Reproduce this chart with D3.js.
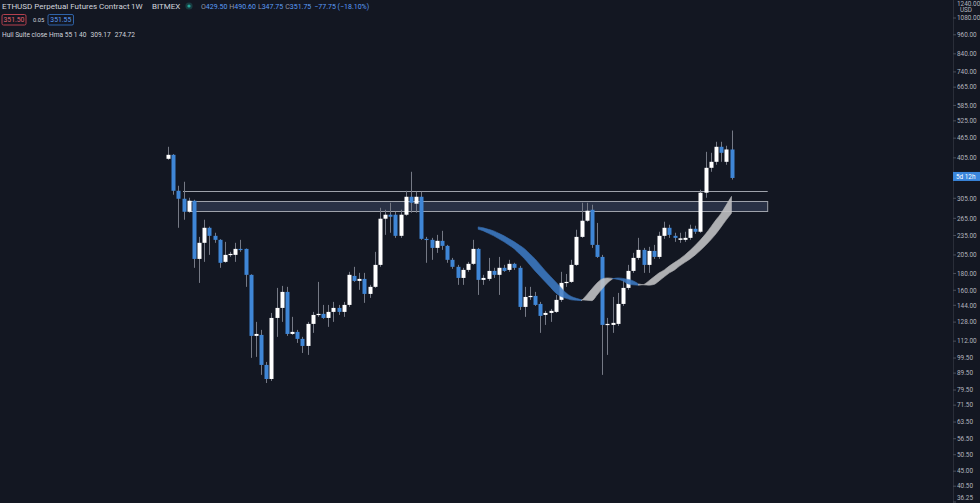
<!DOCTYPE html>
<html>
<head>
<meta charset="utf-8">
<script src="https://cdnjs.cloudflare.com/ajax/libs/d3/7.8.5/d3.min.js"></script>
<style>
html, body { margin: 0; padding: 0; background: #131722; overflow: hidden; }
svg { display: block; font-family: Roboto, "Liberation Sans", sans-serif; }
</style>
</head>
<body>
<div id="chart"></div>
<script>
/*
 * Weekly candles, ETHUSD BitMEX, oldest first.
 */
var opens = [402.3, 413.7, 321.5, 304.0, 277.5, 299.8, 199.4, 223.2, 248.0, 234.4,
    227.9, 195.3, 205.1, 205.1, 213.9, 213.9, 178.3, 116.2, 117.0, 94.8,
    85.9, 131.8, 141.4, 158.2, 117.8, 119.5, 113.8, 108.3, 126.4, 134.6,
    135.6, 131.8, 137.5, 141.4, 137.5, 144.4, 177.0, 170.9, 173.3, 156.0,
    163.9, 191.2, 264.3, 271.8, 271.8, 234.4, 271.8, 308.3, 293.6, 308.3,
    229.5, 227.9, 215.4, 226.3, 218.5, 198.1, 188.6, 174.5, 184.6, 192.6,
    213.9, 172.1, 173.3, 183.3, 178.3, 187.3, 184.6, 192.6, 187.3, 142.4,
    152.7, 153.8, 145.4, 134.6, 136.5, 137.5, 149.6, 168.5, 169.7, 191.2,
    232.7, 260.6, 281.4, 220.0, 202.2, 125.5, 125.5, 126.4, 145.4, 162.7,
    183.3, 200.8, 212.4, 191.2, 210.9, 202.2, 234.4, 248.0, 234.4, 227.9,
    227.9, 231.1, 246.3, 241.2, 317.1, 377.7, 393.9, 437.7, 393.9, 429.5];
var highs = [437.7, 416.0, 333.0, 342.5, 306.2, 301.9, 232.7, 262.4, 250.0, 239.5,
    229.0, 224.7, 209.5, 223.2, 227.9, 214.5, 179.0, 128.2, 121.2, 96.8,
    136.5, 162.7, 165.0, 163.9, 132.8, 121.2, 115.4, 128.2, 137.5, 169.7,
    144.4, 144.4, 147.5, 144.4, 147.5, 182.1, 188.6, 180.8, 180.8, 166.2,
    209.5, 285.4, 281.4, 295.6, 277.5, 281.4, 321.5, 367.3, 319.3, 319.3,
    232.7, 231.1, 236.0, 242.8, 220.0, 200.8, 191.2, 187.3, 195.3, 227.9,
    215.4, 178.3, 200.8, 187.3, 202.2, 191.2, 198.1, 194.0, 189.9, 163.9,
    163.9, 158.2, 147.5, 138.5, 140.4, 154.9, 182.1, 179.4, 198.1, 244.6,
    295.6, 295.6, 291.5, 256.6, 205.1, 131.8, 152.7, 157.1, 172.1, 191.2,
    208.0, 231.1, 215.4, 217.0, 220.0, 241.2, 258.8, 253.4, 239.5, 239.5,
    241.2, 253.4, 251.6, 323.8, 422.5, 419.6, 453.3, 453.3, 440.8, 490.6];
var lows = [399.5, 312.7, 248.0, 262.4, 275.6, 187.3, 168.5, 195.3, 205.1, 223.2,
    187.3, 194.0, 202.2, 195.3, 209.5, 163.9, 99.6, 100.3, 88.4, 83.5,
    84.7, 115.4, 128.2, 116.2, 117.0, 110.6, 103.1, 101.7, 118.7, 132.8,
    130.9, 123.8, 128.2, 134.6, 132.8, 142.4, 169.7, 160.5, 146.5, 151.7,
    162.7, 188.6, 236.0, 239.5, 231.1, 231.1, 269.9, 275.6, 275.6, 227.9,
    194.0, 198.1, 208.0, 212.4, 194.0, 186.0, 166.2, 166.2, 182.1, 191.2,
    154.9, 166.2, 170.9, 174.5, 154.9, 182.1, 182.1, 184.6, 139.4, 132.8,
    149.6, 143.4, 118.7, 125.5, 128.2, 136.5, 147.5, 163.9, 168.5, 189.9,
    231.1, 258.8, 215.4, 200.8, 88.4, 101.7, 118.7, 124.6, 143.4, 160.5,
    180.8, 198.1, 180.8, 180.8, 199.4, 199.4, 229.5, 231.1, 224.7, 223.2,
    224.7, 227.9, 237.6, 239.5, 306.2, 367.3, 385.8, 393.9, 385.8, 347.75];
var closes = [413.7, 321.5, 304.0, 277.5, 299.8, 199.4, 223.2, 248.0, 234.4, 227.9,
    194.0, 205.1, 206.5, 213.9, 212.4, 178.3, 116.2, 117.8, 94.8, 85.9,
    131.8, 141.4, 158.2, 117.8, 119.5, 113.8, 108.3, 126.4, 134.6, 135.6,
    131.8, 137.5, 141.4, 137.5, 144.4, 178.3, 170.9, 173.3, 156.0, 163.9,
    191.2, 264.3, 271.8, 268.0, 234.4, 271.8, 308.3, 295.6, 308.3, 229.5,
    227.9, 215.4, 226.3, 218.5, 198.1, 188.6, 174.5, 184.6, 192.6, 213.9,
    172.1, 174.5, 183.3, 178.3, 187.3, 183.3, 192.6, 187.3, 142.4, 152.7,
    153.8, 144.4, 133.7, 136.5, 138.5, 149.6, 168.5, 169.7, 191.2, 232.7,
    260.6, 279.5, 220.0, 202.2, 125.5, 126.4, 127.3, 145.4, 162.7, 183.3,
    200.8, 212.4, 191.2, 210.9, 202.2, 234.4, 248.0, 236.0, 231.1, 230.3,
    231.1, 246.3, 241.2, 317.1, 377.7, 393.9, 437.7, 419.6, 429.5, 351.75];
/*
 * Hull Suite (HMA 55) values, first value belongs to bar hullStart.
 */
var hullStart = 58;
var hull = [249.6, 247.9, 245.3, 242.7, 238.5, 234.4, 229.5, 224.7, 219.3, 213.9,
    206.5, 199.4, 191.2, 183.3, 176.3, 169.7, 163.3, 157.1, 153.3, 151.2,
    149.6, 149.1, 148.8, 154.9, 161.6, 168.5, 173.3, 174.5, 173.9, 172.7,
    170.9, 167.3, 166.2, 165.8, 166.7, 170.9, 175.8, 180.8, 184.6, 189.9,
    194.6, 199.4, 205.1, 211.7, 219.3, 227.9, 237.7, 249.6, 262.2, 274.7,
    291.3, 309.2];
/*
 * Price scale labels.
 */
var priceTicks = [1240, 1080, 960, 840, 740, 665, 585, 525, 465, 405, 305, 265, 235,
    205, 180, 160, 144, 128, 112, 99.5, 89.5, 79.5, 71.5, 63.5, 56.5, 50.5, 45, 40.5, 36.25];
/*
 * Drawn resistance line and zone.
 */
var levelLine = 321.5;
var zone = [279.5, 299.8];
/*
 * Legend values.
 */
var legendOhlc = [['O', '429.50'], ['H', '490.60'], ['L', '347.75'], ['C', '351.75']];
var legendChange = '\u221277.75 (\u221218.10%)';
var hullLegend = ['309.17', '274.72'];


function CandleChart() {
    this._width = 980;
    this._height = 503;
    this._axisX = 953;
    this._colors = {
        bg: '#131722',
        up: '#ffffff',
        down: '#3f86d6',
        wick: '#757985',
        text: '#d1d4dc',
        axisText: '#b2b5be',
        blue: '#5b9cf6',
        drawing: '#9ea2ab'
    };
    this._x = d3.scaleLinear().domain([0, 109]).range([168, 731.5]);
    this._y = d3.scaleLog().domain([36.25, 1080]).range([502, 18]);
}


CandleChart.prototype.renderTo = function(selection) {

    this._svg = d3.select(selection).append('svg')
        .attr('width', this._width)
        .attr('height', this._height);

    this._svg.append('rect')
        .attr('width', this._width)
        .attr('height', this._height)
        .attr('fill', this._colors.bg);

    this._drawLevels();
    this._drawCandles();
    this._drawHull();
    this._drawAxis();
    this._drawLegend();

    return this;
};


CandleChart.prototype._drawLevels = function() {

    var x = this._x, y = this._y, c = this._colors;
    var right = x(116);
    /*
     * Horizontal line.
     */
    this._svg.append('line')
        .attr('x1', x(2.9)).attr('x2', right)
        .attr('y1', Math.round(y(levelLine)) + 0.5)
        .attr('y2', Math.round(y(levelLine)) + 0.5)
        .attr('stroke', c.drawing)
        .attr('stroke-width', 1);
    /*
     * Zone rectangle.
     */
    var top = Math.round(y(zone[1])) + 0.5;
    var bottom = Math.round(y(zone[0])) + 0.5;
    this._svg.append('rect')
        .attr('x', x(4.3)).attr('y', top)
        .attr('width', right - x(4.3))
        .attr('height', bottom - top)
        .attr('fill', 'rgba(125,145,195,0.22)')
        .attr('stroke', c.drawing)
        .attr('stroke-width', 1);
};


CandleChart.prototype._drawCandles = function() {

    var x = this._x, y = this._y, c = this._colors;
    var bars = d3.range(opens.length).map(function(i) {
        return {i: i, o: opens[i], h: highs[i], l: lows[i], c: closes[i]};
    });
    var g = this._svg.append('g');

    g.selectAll('line.wick').data(bars).enter().append('line')
        .attr('class', 'wick')
        .attr('x1', d => Math.round(x(d.i)) + 0.5)
        .attr('x2', d => Math.round(x(d.i)) + 0.5)
        .attr('y1', d => y(d.h))
        .attr('y2', d => y(d.l))
        .attr('stroke', c.wick)
        .attr('stroke-width', 1);

    g.selectAll('rect.body').data(bars).enter().append('rect')
        .attr('class', 'body')
        .attr('x', d => Math.round(x(d.i)) - 1.5)
        .attr('width', 4)
        .attr('y', d => y(Math.max(d.o, d.c)))
        .attr('height', d => Math.max(1.2, Math.abs(y(d.o) - y(d.c))))
        .attr('fill', d => d.c >= d.o ? c.up : c.down);
};


CandleChart.prototype._drawHull = function() {

    var x = this._x, y = this._y;
    var last = hullStart + hull.length - 1;
    var value = i => hull[i - hullStart];
    /*
     * Split band into runs of rising / falling hull.
     */
    var runs = [];
    for (var i = hullStart + 2; i <= last; i++) {
        var rising = value(i) >= value(i - 2);
        var run = runs[runs.length - 1];
        if (!run || run.rising !== rising) {
            runs.push({rising: rising, from: Math.max(hullStart + 2, i - 1), to: i});
        } else {
            run.to = i;
        }
    }

    var area = d3.area()
        .curve(d3.curveMonotoneX)
        .x(i => x(i))
        .y0(i => y(value(i - 2)))
        .y1(i => y(value(i)));

    this._svg.append('g').selectAll('path').data(runs).enter().append('path')
        .attr('d', d => area(d3.range(d.from, d.to + 1)))
        .attr('fill', d => d.rising ? '#c4c4c6' : '#3d7ac4')
        .attr('stroke', d => d.rising ? '#c4c4c6' : '#3d7ac4')
        .attr('stroke-width', 0.6)
        .attr('opacity', 0.88);
};


CandleChart.prototype._drawAxis = function() {

    var y = this._y, c = this._colors, ax = this._axisX;
    var g = this._svg.append('g');
    /*
     * Keep edge labels inside the picture.
     */
    var labelY = d => Math.min(497.5, Math.max(3.5, y(d)));

    g.append('line')
        .attr('x1', ax + 0.5).attr('x2', ax + 0.5)
        .attr('y1', 0).attr('y2', this._height)
        .attr('stroke', '#2a2e39');

    var ticks = g.selectAll('g.tick').data(priceTicks).enter().append('g')
        .attr('class', 'tick');

    ticks.append('line')
        .attr('x1', ax).attr('x2', ax + 3)
        .attr('y1', d => y(d)).attr('y2', d => y(d))
        .attr('stroke', '#4a4e59');

    ticks.append('text')
        .attr('x', ax + 4)
        .attr('y', labelY)
        .attr('dy', '0.35em')
        .attr('fill', c.axisText)
        .attr('font-size', 6.4)
        .text(d => d3.format('.2f')(d));

    g.append('text')
        .attr('x', 966).attr('y', 12)
        .attr('text-anchor', 'middle')
        .attr('fill', c.axisText)
        .attr('font-size', 6.4)
        .text('USD');
    /*
     * Last price label with countdown.
     */
    var py = y(closes[closes.length - 1]);
    g.append('rect')
        .attr('x', ax).attr('y', py - 6)
        .attr('width', this._width - ax).attr('height', 9)
        .attr('fill', '#3a86dc');
    g.append('text')
        .attr('x', ax + 3).attr('y', py - 1.5)
        .attr('dy', '0.35em')
        .attr('fill', '#ffffff')
        .attr('font-size', 6.4)
        .text('5d 12h');
};


CandleChart.prototype._drawLegend = function() {

    var c = this._colors;
    var g = this._svg.append('g');

    g.append('text')
        .attr('x', 2).attr('y', 9)
        .attr('fill', c.text)
        .attr('font-size', 8)
        .text('ETHUSD Perpetual Futures Contract');
    g.append('text').attr('x', 131).attr('y', 9)
        .attr('fill', c.text).attr('font-size', 8).text('1W');
    g.append('text').attr('x', 152).attr('y', 9)
        .attr('fill', c.text).attr('font-size', 8).text('BITMEX');

    g.append('circle').attr('cx', 189).attr('cy', 6).attr('r', 3.6)
        .attr('fill', 'rgba(38,166,154,0.25)');
    g.append('circle').attr('cx', 189).attr('cy', 6).attr('r', 1.6)
        .attr('fill', '#26a69a');

    var t = g.append('text')
        .attr('x', 201).attr('y', 9)
        .attr('font-size', 7);
    legendOhlc.forEach(function(d, i) {
        t.append('tspan').attr('fill', '#9598a1')
            .attr('dx', i ? 2 : 0).text(d[0]);
        t.append('tspan').attr('fill', c.blue).text(d[1]);
    });
    t.append('tspan').attr('fill', c.blue).attr('dx', 3).text(legendChange);
    /*
     * Bid / ask boxes.
     */
    g.append('rect').attr('x', 2).attr('y', 14.5).attr('width', 24).attr('height', 10.5)
        .attr('rx', 1.5).attr('fill', 'none').attr('stroke', '#b5414f');
    g.append('text').attr('x', 14).attr('y', 22.3).attr('text-anchor', 'middle')
        .attr('font-size', 6.8).attr('fill', '#e0606d').text('351.50');
    g.append('text').attr('x', 33).attr('y', 22).attr('font-size', 5.8)
        .attr('fill', c.text).text('0.05');
    g.append('rect').attr('x', 48).attr('y', 14.5).attr('width', 25.5).attr('height', 10.5)
        .attr('rx', 1.5).attr('fill', 'none').attr('stroke', '#2f63a8');
    g.append('text').attr('x', 60.8).attr('y', 22.3).attr('text-anchor', 'middle')
        .attr('font-size', 6.8).attr('fill', c.blue).text('351.55');
    /*
     * Indicator legend.
     */
    var h = g.append('text')
        .attr('x', 2).attr('y', 36.5)
        .attr('font-size', 6.6)
        .attr('fill', c.text);
    h.append('tspan').text('Hull Suite close Hma 55 1 40');
    hullLegend.forEach(function(v) {
        h.append('tspan').attr('dx', 4).text(v);
    });
};


CandleChart.prototype.constructor = CandleChart;

new CandleChart().renderTo('#chart');
</script>
</body>
</html>
